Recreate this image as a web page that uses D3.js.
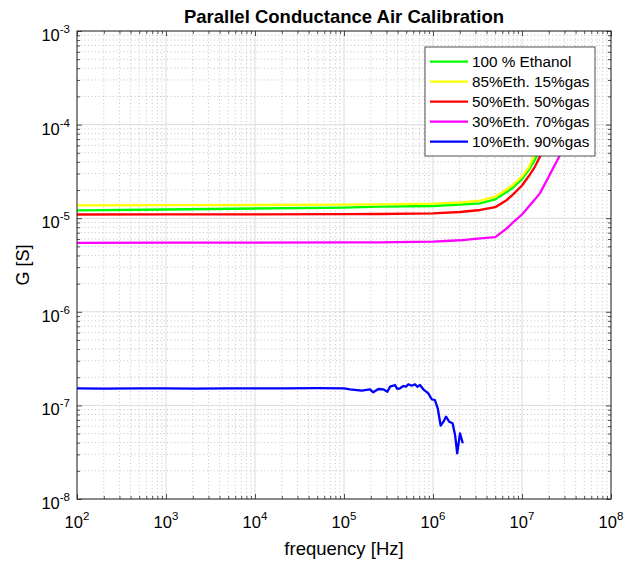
<!DOCTYPE html>
<html>
<head>
<meta charset="utf-8">
<script src="https://cdn.jsdelivr.net/npm/d3@7"></script>
<style>
  body { margin: 0; background: #fff; }
  text { font-family: "Liberation Sans", Arial, Helvetica, sans-serif; fill: #000; }
</style>
</head>
<body>
<svg id="chart" width="635" height="564"></svg>
<script>
// Legend entries and line colours
const seriesNames = ["100 % Ethanol", "85%Eth. 15%gas", "50%Eth. 50%gas", "30%Eth. 70%gas", "10%Eth. 90%gas"];
const seriesColors = ["#00ff00", "#ffff00", "#ff0000", "#ff00ff", "#0000ff"];

// Frequency grid shared by the four high-conductance sweeps [Hz]
const freqHz = [1e2, 1e3, 1e4, 1e5, 2.5e5, 1e6, 2e6, 3.4e6, 5e6, 6.7e6, 8e6, 1e7, 1.2e7, 1.4e7, 1.6e7, 2e7, 2.5e7, 3e7];

// Parallel conductance G [S]
const gEth100 = [1.214e-5, 1.238e-5, 1.269e-5, 1.30e-5, 1.327e-5, 1.35e-5, 1.40e-5, 1.443e-5, 1.59e-5, 1.896e-5, 2.14e-5, 2.62e-5, 3.31e-5, 4.23e-5, 5.40e-5, 8.13e-5, 1.21e-4, 1.66e-4];
const gEth85 = [1.373e-5, 1.377e-5, 1.384e-5, 1.394e-5, 1.408e-5, 1.429e-5, 1.472e-5, 1.542e-5, 1.70e-5, 2.025e-5, 2.29e-5, 2.80e-5, 3.52e-5, 5.03e-5, 6.68e-5, 1.015e-4, 1.50e-4, 2.07e-4];
const gEth50 = [1.095e-5, 1.098e-5, 1.101e-5, 1.103e-5, 1.109e-5, 1.128e-5, 1.165e-5, 1.224e-5, 1.311e-5, 1.557e-5, 1.81e-5, 2.235e-5, 2.84e-5, 3.56e-5, 4.60e-5, 6.85e-5, 9.90e-5, 1.364e-4];
const gEth30 = [5.46e-6, 5.47e-6, 5.49e-6, 5.51e-6, 5.53e-6, 5.61e-6, 5.81e-6, 6.10e-6, 6.27e-6, 7.74e-6, 9.06e-6, 1.095e-5, 1.34e-5, 1.59e-5, 1.864e-5, 2.79e-5, 4.18e-5, 5.83e-5];

// The 10 % ethanol sweep is sampled on its own, shorter frequency list
const freqHzEth10 = [1e2, 2e2, 5e2, 1e3, 2e3, 5e3, 1e4, 2e4, 5e4, 1e5, 1.17e5, 1.58e5, 1.96e5, 2.13e5, 2.43e5, 2.76e5, 3.07e5, 3.29e5, 3.58e5, 3.74e5, 3.97e5, 4.26e5, 4.64e5, 4.97e5, 5.28e5, 5.76e5, 6.28e5, 6.66e5, 7.14e5, 7.78e5, 8.86e5, 9.67e5, 1.05e6, 1.13e6, 1.22e6, 1.31e6, 1.40e6, 1.52e6, 1.66e6, 1.77e6, 1.87e6, 2.01e6, 2.16e6];
const gEth10 = [1.52e-7, 1.51e-7, 1.52e-7, 1.52e-7, 1.51e-7, 1.52e-7, 1.52e-7, 1.52e-7, 1.53e-7, 1.52e-7, 1.486e-7, 1.436e-7, 1.486e-7, 1.380e-7, 1.497e-7, 1.486e-7, 1.401e-7, 1.584e-7, 1.623e-7, 1.651e-7, 1.497e-7, 1.523e-7, 1.612e-7, 1.584e-7, 1.680e-7, 1.623e-7, 1.680e-7, 1.584e-7, 1.651e-7, 1.486e-7, 1.346e-7, 1.162e-7, 1.142e-7, 9.31e-8, 6.07e-8, 6.70e-8, 7.57e-8, 6.70e-8, 6.44e-8, 4.83e-8, 3.08e-8, 5.03e-8, 3.94e-8];

// Decade exponents used for the tick labels
const xTickExps = [2, 3, 4, 5, 6, 7, 8];
const yTickExps = [-8, -7, -6, -5, -4, -3];

const svg = d3.select("#chart");
const plot = { left: 77, right: 611, top: 31, bottom: 499 };

const x = d3.scaleLog().domain([1e2, 1e8]).range([plot.left, plot.right]);
const y = d3.scaleLog().domain([1e-8, 1e-3]).range([plot.bottom, plot.top]);

const xMajor = xTickExps.map(e => Math.pow(10, e));
const yMajor = yTickExps.map(e => Math.pow(10, e));
const minorOf = exps => exps.slice(0, -1).flatMap(e => d3.range(2, 10).map(k => k * Math.pow(10, e)));
const xMinor = minorOf(xTickExps);
const yMinor = minorOf(yTickExps);

// plot background
svg.append("rect").attr("x", plot.left).attr("y", plot.top)
  .attr("width", plot.right - plot.left).attr("height", plot.bottom - plot.top)
  .attr("fill", "#fff");

// minor grid (dotted)
const grid = svg.append("g");
grid.selectAll("line.xmin").data(xMinor).join("line")
  .attr("x1", d => x(d)).attr("x2", d => x(d)).attr("y1", plot.top).attr("y2", plot.bottom)
  .attr("stroke", "#b4b4b4").attr("stroke-width", 0.8).attr("stroke-dasharray", "1,2.6");
grid.selectAll("line.ymin").data(yMinor).join("line")
  .attr("y1", d => y(d)).attr("y2", d => y(d)).attr("x1", plot.left).attr("x2", plot.right)
  .attr("stroke", "#b4b4b4").attr("stroke-width", 0.8).attr("stroke-dasharray", "1,2.6");
// major grid (solid, faint)
grid.selectAll("line.xmaj").data(xMajor).join("line")
  .attr("x1", d => x(d)).attr("x2", d => x(d)).attr("y1", plot.top).attr("y2", plot.bottom)
  .attr("stroke", "#dcdcdc").attr("stroke-width", 1);
grid.selectAll("line.ymaj").data(yMajor).join("line")
  .attr("y1", d => y(d)).attr("y2", d => y(d)).attr("x1", plot.left).attr("x2", plot.right)
  .attr("stroke", "#dcdcdc").attr("stroke-width", 1);

// data curves
svg.append("clipPath").attr("id", "clip").append("rect")
  .attr("x", plot.left).attr("y", plot.top)
  .attr("width", plot.right - plot.left).attr("height", plot.bottom - plot.top);

const line = d3.line().x(d => x(d[0])).y(d => y(d[1]));
const series = [
  d3.zip(freqHz, gEth100),
  d3.zip(freqHz, gEth85),
  d3.zip(freqHz, gEth50),
  d3.zip(freqHz, gEth30),
  d3.zip(freqHzEth10, gEth10)
];
svg.append("g").attr("clip-path", "url(#clip)")
  .selectAll("path").data(series).join("path")
  .attr("d", line)
  .attr("fill", "none")
  .attr("stroke", (d, i) => seriesColors[i])
  .attr("stroke-width", 2.3)
  .attr("stroke-linejoin", "round");

// axes with inward ticks on all four sides
const axisColor = "#262626";
function tickAxis(gen, vals, size, tx, ty) {
  const g = svg.append("g").attr("transform", `translate(${tx},${ty})`)
    .call(gen.tickValues(vals).tickSizeInner(size).tickSizeOuter(0).tickFormat(""));
  g.select(".domain").remove();
  g.selectAll("line").attr("stroke", axisColor).attr("stroke-width", 0.8);
  return g;
}
tickAxis(d3.axisBottom(x), xMajor, -5, 0, plot.bottom);
tickAxis(d3.axisBottom(x), xMinor, -3, 0, plot.bottom);
tickAxis(d3.axisTop(x), xMajor, -5, 0, plot.top);
tickAxis(d3.axisTop(x), xMinor, -3, 0, plot.top);
tickAxis(d3.axisLeft(y), yMajor, -5, plot.left, 0);
tickAxis(d3.axisLeft(y), yMinor, -3, plot.left, 0);
tickAxis(d3.axisRight(y), yMajor, -5, plot.right, 0);
tickAxis(d3.axisRight(y), yMinor, -3, plot.right, 0);

// axes box
svg.append("rect").attr("x", plot.left).attr("y", plot.top)
  .attr("width", plot.right - plot.left).attr("height", plot.bottom - plot.top)
  .attr("fill", "none").attr("stroke", axisColor).attr("stroke-width", 1);

// power-of-ten tick labels
function powLabel(sel, exp) {
  sel.append("tspan").text("10");
  sel.append("tspan").attr("dy", -8).attr("font-size", 11.5).text(exp);
}
svg.append("g").selectAll("text").data(xTickExps).join("text")
  .attr("x", d => x(Math.pow(10, d))).attr("y", plot.bottom + 29)
  .attr("text-anchor", "middle").attr("font-size", 16.5)
  .each(function (d) { powLabel(d3.select(this), d); });
svg.append("g").selectAll("text").data(yTickExps).join("text")
  .attr("x", plot.left - 7).attr("y", d => y(Math.pow(10, d)) + 10)
  .attr("text-anchor", "end").attr("font-size", 16.5)
  .each(function (d) { powLabel(d3.select(this), d); });

// title and axis labels
svg.append("text").attr("x", (plot.left + plot.right) / 2).attr("y", 23)
  .attr("text-anchor", "middle").attr("font-size", 18.5).attr("font-weight", "bold")
  .text("Parallel Conductance Air Calibration");
svg.append("text").attr("x", (plot.left + plot.right) / 2).attr("y", 555)
  .attr("text-anchor", "middle").attr("font-size", 18.5)
  .text("frequency [Hz]");
svg.append("text").attr("transform", `translate(29,${(plot.top + plot.bottom) / 2}) rotate(-90)`)
  .attr("text-anchor", "middle").attr("font-size", 18)
  .text("G [S]");

// legend
const legend = svg.append("g").attr("transform", "translate(425,47)");
legend.append("rect").attr("width", 170).attr("height", 109)
  .attr("fill", "#fff").attr("stroke", axisColor).attr("stroke-width", 0.8);
const rows = legend.selectAll("g").data(seriesNames).join("g")
  .attr("transform", (d, i) => `translate(0,${14.7 + i * 20})`);
rows.append("line").attr("x1", 5).attr("x2", 43)
  .attr("stroke", (d, i) => seriesColors[i]).attr("stroke-width", 2.3);
rows.append("text").attr("x", 47).attr("y", 5.5).attr("font-size", 15.3).text(d => d);
</script>
</body>
</html>
